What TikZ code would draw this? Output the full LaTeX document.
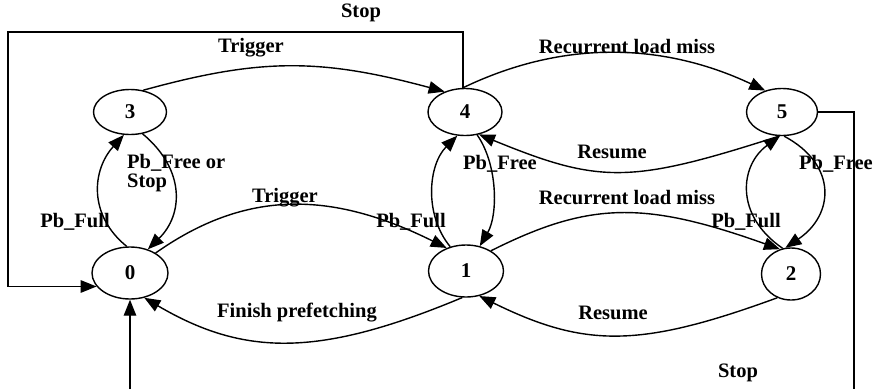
\documentclass[tikz,border=0pt]{standalone}
\usepackage{fontspec}
\setmainfont{Liberation Serif}
\usetikzlibrary{arrows.meta,shapes.geometric}

\begin{document}
\begin{tikzpicture}[x=1pt,y=-1pt,
  state/.style={draw,ellipse,line width=1.4pt,inner sep=0pt,
    font=\bfseries\fontsize{21}{21}\selectfont},
  lbl/.style={font=\bfseries\fontsize{20.5}{19}\selectfont,inner sep=0pt},
  arr/.style={line width=1.4pt,-{Triangle[length=16pt,width=12.5pt]}},
  wire/.style={line width=1.4pt}]
  % canvas
  \path[fill=white,use as bounding box] (0,0) rectangle (873,389);

  % states
  \node[state,minimum width=73pt,minimum height=45pt] (n3) at (130,112) {3};
  \node[state,minimum width=74pt,minimum height=47pt] (n4) at (465,112) {4};
  \node[state,minimum width=71pt,minimum height=47pt] (n5) at (782,112) {5};
  \node[state,minimum width=76pt,minimum height=52pt] (n0) at (130,273) {0};
  \node[state,minimum width=75pt,minimum height=52pt] (n1) at (466,271) {1};
  \node[state,minimum width=59pt,minimum height=52pt] (n2) at (791,274) {2};

  % corner points of the two Stop wires
  \coordinate (tl) at (8,32);
  \coordinate (br) at (854,389);
  \coordinate (bl) at (130,389);

  % transitions
  \draw[arr] (n3.59) .. controls (260,58) and (320,58) .. (n4.135);
  \draw[arr] (n4.95) .. controls (560,41) and (660,41) .. (n5.128);
  \draw[arr] (n5.263) .. controls (630,184) and (600,184) .. (n4.302);
  \draw[arr] (n0.97) .. controls (88,215) and (92,170) .. (n3.255);
  \draw[arr] (n3.300) .. controls (186,170) and (183,215) .. (n0.53);
  \draw[arr] (n0.38) .. controls (245,190) and (330,190) .. (n1.130);
  \draw[arr] (n1.123) .. controls (424,215) and (428,165) .. (n4.252);
  \draw[arr] (n4.298) .. controls (498,165) and (498,215) .. (n1.61);
  \draw[arr] (n1.39) .. controls (590,201) and (645,201) .. (n2.114);
  \draw[arr] (n2.108) .. controls (734,215) and (740,165) .. (n5.265);
  \draw[arr] (n5.275) .. controls (838,165) and (834,215) .. (n2.102);
  \draw[arr] (n2.240) .. controls (640,348) and (585,348) .. (n1.298);
  \draw[arr] (n1.262) .. controls (320,357) and (245,357) .. (n0.300);

  % Stop wires
  \draw[arr] (n4.95) |- (tl) |- (n0.202);
  \draw[wire] (n5.east) -| (br);
  \draw[arr] (bl) -- (n0.south);

  % labels
  \node[lbl] (lstop1) at (361,13) {Stop};
  \node[lbl] (ltrig1) at (251,48) {Trigger};
  \node[lbl] (lrlm1) at (627,47) {Recurrent load miss};
  \node[lbl] (lres1) at (612,152) {Resume};
  \node[lbl,align=left,anchor=west] (lfree0) at (127,173) {Pb\_Free or\\Stop};
  \node[lbl] (lfree1) at (500,164) {Pb\_Free};
  \node[lbl] (lfree2) at (836,164) {Pb\_Free};
  \node[lbl] (ltrig2) at (285,198) {Trigger};
  \node[lbl] (lrlm2) at (627,198) {Recurrent load miss};
  \node[lbl] (lfull0) at (75,222) {Pb\_Full};
  \node[lbl] (lfull1) at (411,222) {Pb\_Full};
  \node[lbl] (lfull2) at (746,222) {Pb\_Full};
  \node[lbl] (lfin) at (297,313) {Finish prefetching};
  \node[lbl] (lres2) at (613,313) {Resume};
  \node[lbl] (lstop2) at (738,373) {Stop};
\end{tikzpicture}
\end{document}
